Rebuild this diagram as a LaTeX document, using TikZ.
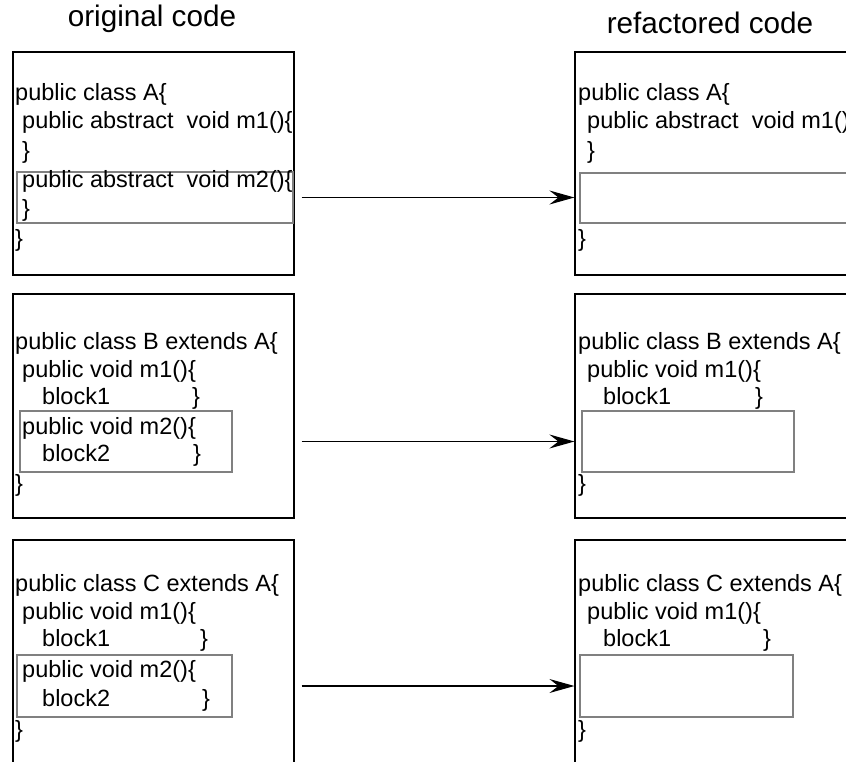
\documentclass[tikz,border=0pt]{standalone}
\usepackage{fontspec}
\setmainfont{Liberation Sans}
\usetikzlibrary{arrows.meta,fit}
\begin{document}
\begin{tikzpicture}[x=1pt, y=-1pt,
  box/.style={draw, line width=1.2pt, inner sep=0pt},
  blk/.style={draw=black!50, line width=1.2pt, inner sep=0pt},
  code/.style={anchor=base west, inner sep=0pt, font=\fontsize{23.5}{28}\selectfont},
  title/.style={anchor=base, inner sep=0pt, font=\fontsize{29.7}{34}\selectfont},
  move/.style={-{Stealth[length=25pt, width=14pt, inset=9pt]}, line width=1.2pt, shorten <=7pt}]
\clip (0,0) rectangle (846,762); % bounding box

\node[title] (orig) at (152,27) {original code};
\node[title] (refac) at (710,34) {refactored code};

% class A
\node[box, fit={(13,52) (294,275)}] (oA) {};
\node[blk, fit={(17,172) (293,223)}] (iA) {};
\node[box, fit={(575,52) (880,275)}] (rA) {};
\node[blk, fit={(580,173) (880,223)}] (riA) {};
\node[code] (tA1) at (15,101) {public class A\{};
\node[code] (tA2) at (22,129) {public abstract\ \ void m1()\{};
\node[code] (tA3) at (22,159) {\}};
\node[code] (tA4) at (22,188) {public abstract\ \ void m2()\{};
\node[code] (tA5) at (22,217) {\}};
\node[code] (tA6) at (15,247) {\}};
\node[code] (rA1) at (578,101) {public class A\{};
\node[code] (rA2) at (587,129) {public abstract\ \ void m1()\{};
\node[code] (rA3) at (587,159) {\}};
\node[code] (rA6) at (578,247) {\}};
\draw[move] (oA.east |- iA.east) -- (rA.west |- iA.east);

% class B
\node[box, fit={(13,294) (294,518)}] (oB) {};
\node[blk, fit={(20,411) (232,472)}] (iB) {};
\node[box, fit={(575,294) (880,518)}] (rB) {};
\node[blk, fit={(582,411) (794,472)}] (riB) {};
\node[code] (tB1) at (15,349) {public class B extends A\{};
\node[code] (tB2) at (22,377) {public void m1()\{};
\node[code] (tB3) at (42,404) {block1};
\node[code] (tB3e) at (192,404) {\}};
\node[code] (tB4) at (22,434) {public void m2()\{};
\node[code] (tB5) at (42,461) {block2};
\node[code] (tB5e) at (193,461) {\}};
\node[code] (tB6) at (15,491) {\}};
\node[code] (rB1) at (578,349) {public class B extends A\{};
\node[code] (rB2) at (587,377) {public void m1()\{};
\node[code] (rB3) at (603,404) {block1};
\node[code] (rB3e) at (755,404) {\}};
\node[code] (rB6) at (578,491) {\}};
\draw[move] (oB.east |- iB.east) -- (rB.west |- iB.east);

% class C
\node[box, fit={(13,540) (294,800)}] (oC) {};
\node[blk, fit={(17,655) (232,717)}] (iC) {};
\node[box, fit={(575,540) (880,800)}] (rC) {};
\node[blk, fit={(580,655) (793,717)}] (riC) {};
\node[code] (tC1) at (15,591) {public class C extends A\{};
\node[code] (tC2) at (22,619) {public void m1()\{};
\node[code] (tC3) at (42,646) {block1};
\node[code] (tC3e) at (200,646) {\}};
\node[code] (tC4) at (22,677) {public void m2()\{};
\node[code] (tC5) at (42,706) {block2};
\node[code] (tC5e) at (202,706) {\}};
\node[code] (tC6) at (15,737) {\}};
\node[code] (rC1) at (578,591) {public class C extends A\{};
\node[code] (rC2) at (587,619) {public void m1()\{};
\node[code] (rC3) at (603,646) {block1};
\node[code] (rC3e) at (763,646) {\}};
\node[code] (rC6) at (578,737) {\}};
\draw[move] (oC.east |- iC.east) -- (rC.west |- iC.east);
\end{tikzpicture}
\end{document}
